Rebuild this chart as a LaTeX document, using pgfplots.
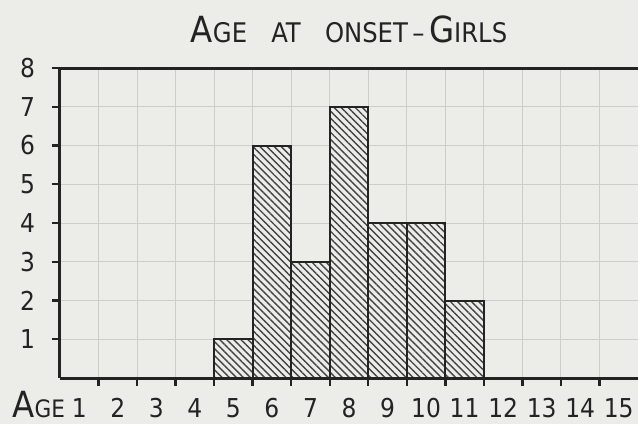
\documentclass[border=0pt]{standalone}
\usepackage{pgfplots}
\pgfplotsset{compat=1.18}
\usepackage{fontspec}
\setmainfont{DejaVu Sans Condensed}
\usetikzlibrary{patterns.meta}
\definecolor{paper}{RGB}{236,236,233}
\definecolor{ink}{RGB}{35,35,35}
\definecolor{gridc}{RGB}{205,205,202}
\newcommand{\bigc}{\fontsize{18}{20}\selectfont}
\newcommand{\smallc}{\fontsize{13.5}{16}\selectfont}
\newcommand{\tickf}{\fontsize{13}{15}\selectfont}
\begin{document}
\begin{tikzpicture}
\path[use as bounding box, fill=paper] (-30pt,-23pt) rectangle (289pt,189pt);
\begin{axis}[
  at={(0,0)}, anchor=south west, scale only axis,
  width=289pt, height=155pt,
  xmin=0, xmax=15, ymin=0, ymax=8,
  axis y line*=left, y axis line style={-},
  axis line style={line width=1.5pt, ink},
  xtick={0.5,1.5,2.5,3.5,4.5,5.5,6.5,7.5,8.5,9.5,10.5,11.5,12.5,13.5,14.5},
  xticklabels={1,2,3,4,5,6,7,8,9,10,11,12,13,14,15},
  minor xtick={1,2,3,4,5,6,7,8,9,10,11,12,13,14},
  ytick={1,2,3,4,5,6,7,8},
  xtick pos=left, ytick pos=left,
  tick align=outside,
  major tick length=4pt, minor tick length=4pt,
  tick style={ink, line width=1.2pt},
  every major x tick/.append style={draw=none},
  xminorgrids=true, ymajorgrids=true,
  minor grid style={gridc, line width=0.5pt},
  major grid style={gridc, line width=0.5pt},
  /pgf/number format/assume math mode=true,
  ticklabel style={font=\tickf, text=ink},
  xticklabel style={anchor=base, yshift=-15.5pt},
  yticklabel style={xshift=-5pt},
  title={{\bigc A}{\smallc GE\hspace{0.9em}AT\hspace{0.9em}ONSET\,--\,}{\bigc G}{\smallc IRLS}},
  title style={at={(0.5,1)}, anchor=base, yshift=7pt, text=ink},
]
\addplot[ybar interval, draw=ink, line width=1pt, fill=paper,
  postaction={pattern={Lines[angle=-45, distance=2.5pt, line width=0.7pt]}, pattern color=ink!85}]
  coordinates {(4,1) (5,6) (6,3) (7,7) (8,4) (9,4) (10,2) (11,2)};
\end{axis}
\node[anchor=base west, text=ink, inner sep=0pt] at (-24pt,-19.5pt) {{\bigc A}{\fontsize{12}{14}\selectfont GE}};
\end{tikzpicture}
\end{document}
